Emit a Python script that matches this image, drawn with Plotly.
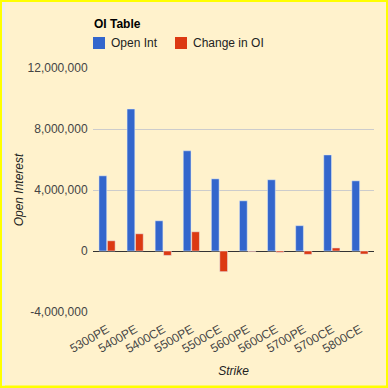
import plotly.graph_objects as go

strikes = ["5300PE", "5400PE", "5400CE", "5500PE", "5500CE",
           "5600PE", "5600CE", "5700PE", "5700CE", "5800CE"]
open_int = [4930000, 9310000, 1980000, 6570000, 4730000,
            3290000, 4670000, 1660000, 6300000, 4600000]
change_oi = [670000, 1130000, -290000, 1260000, -1355000,
             -40000, -90000, -220000, 200000, -200000]
y_ticks = [-4000000, 0, 4000000, 8000000, 12000000]
y_tick_labels = [f"{v:,}" for v in y_ticks]

BLUE = "#3366CC"
RED = "#DC3912"
CREAM = "#FFF2CC"
FONT = "Liberation Sans, Arial, sans-serif"

W, H = 388, 388
L, R, T, B = 93, 14, 68, 76
PW, PH = W - L - R, H - T - B


def px(x):
    return (x - L) / PW


def py(y):
    return (H - B - y) / PH


fig = go.Figure()
fig.add_trace(go.Bar(x=strikes, y=open_int, name="Open Int", marker_color=BLUE))
fig.add_trace(go.Bar(x=strikes, y=change_oi, name="Change in OI", marker_color=RED))

shapes = [
    dict(type="rect", xref="paper", yref="paper", layer="below",
         x0=px(2), x1=px(386), y0=py(2), y1=py(385.5),
         fillcolor=CREAM, line=dict(width=0)),
    dict(type="rect", xref="paper", yref="paper", layer="below",
         x0=px(2), x1=px(5), y0=py(2), y1=py(385.5),
         fillcolor="#EEEEEE", line=dict(width=0)),
    dict(type="rect", xref="paper", yref="paper",
         x0=px(93), x1=px(105), y0=py(37), y1=py(49),
         fillcolor=BLUE, line=dict(width=0)),
    dict(type="rect", xref="paper", yref="paper",
         x0=px(175), x1=px(187), y0=py(37), y1=py(49),
         fillcolor=RED, line=dict(width=0)),
]

annotations = [
    dict(text="<b>OI Table</b>", xref="paper", yref="paper",
         x=px(92), y=py(24), xanchor="left", yanchor="middle",
         showarrow=False, font=dict(size=12, color="#000000", family=FONT)),
    dict(text="Open Int", xref="paper", yref="paper",
         x=px(109), y=py(43), xanchor="left", yanchor="middle",
         showarrow=False, font=dict(size=12, color="#222222", family=FONT)),
    dict(text="Change in OI", xref="paper", yref="paper",
         x=px(191), y=py(43), xanchor="left", yanchor="middle",
         showarrow=False, font=dict(size=12, color="#222222", family=FONT)),
]

fig.update_layout(
    width=W, height=H,
    margin=dict(l=L, r=R, t=T, b=B, pad=0, autoexpand=False),
    paper_bgcolor="#FFFF00",
    plot_bgcolor="rgba(0,0,0,0)",
    font=dict(family=FONT, size=12, color="#444444"),
    showlegend=False,
    barmode="group",
    bargap=0.4,
    bargroupgap=0.08,
    shapes=shapes,
    annotations=annotations,
    xaxis=dict(
        automargin=False,
        title=dict(text="<i>Strike</i>", font=dict(size=12, color="#222222"), standoff=11),
        tickangle=-30,
        showgrid=False, showline=False,
        ticks="outside", ticklen=5, tickcolor="rgba(0,0,0,0)",
        tickfont=dict(size=12, color="#444444"),
    ),
    yaxis=dict(
        automargin=False,
        title=dict(text="<i>Open Interest</i>", font=dict(size=12, color="#222222"), standoff=1),
        range=[-4000000, 12000000],
        tickvals=y_ticks,
        ticktext=y_tick_labels,
        showgrid=True, gridcolor="#CCCCCC", gridwidth=1,
        zeroline=True, zerolinecolor="#333333", zerolinewidth=1,
        showline=False, ticks="outside", ticklen=2, tickcolor="rgba(0,0,0,0)",
        tickfont=dict(size=12, color="#444444"),
    ),
)

fig.write_html(
    "out.html",
    config={"displayModeBar": False},
    post_script="document.body.style.margin='0';document.body.style.overflow='hidden';",
)
